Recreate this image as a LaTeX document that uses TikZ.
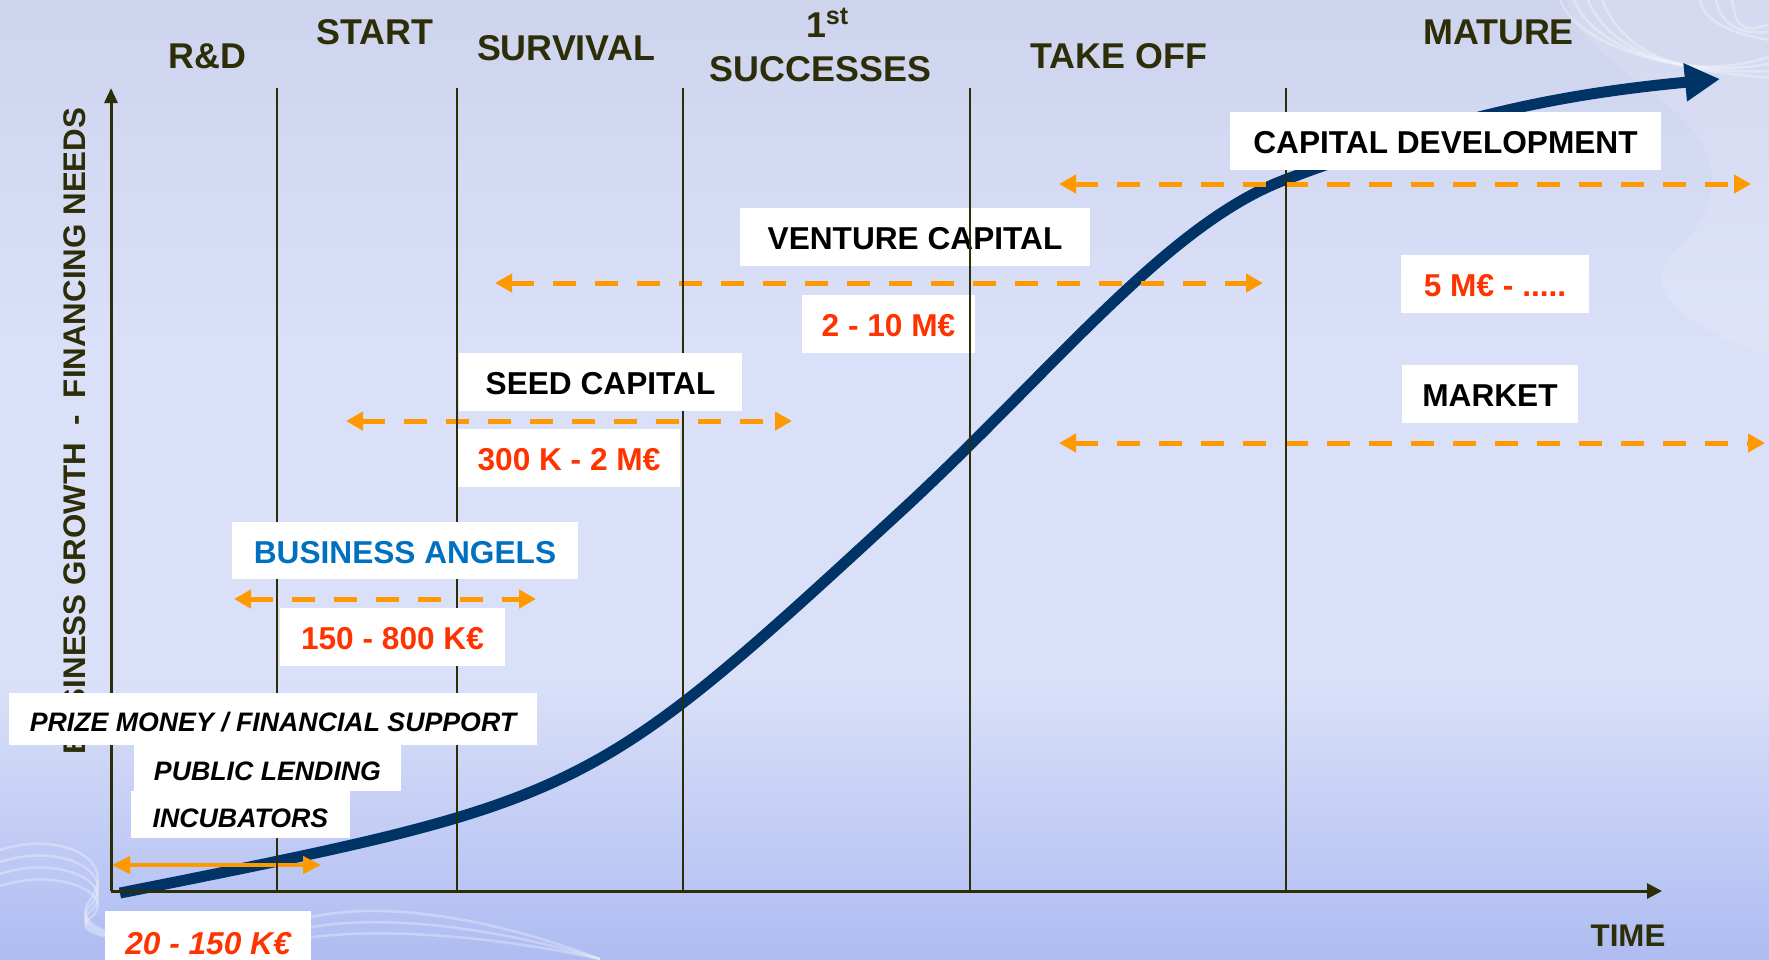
\documentclass[tikz,border=0pt]{standalone}
\usepackage{fontspec}
\setmainfont{Liberation Sans}
\usetikzlibrary{arrows.meta}

\definecolor{growth}  {RGB}{0,51,102}
\definecolor{span}    {RGB}{255,153,0}
\definecolor{amount}  {RGB}{255,51,0}
\definecolor{angels}  {RGB}{0,112,192}
\definecolor{stagecol}{RGB}{45,45,8}
\definecolor{bgtop}   {RGB}{207,212,238}
\definecolor{bgmid}   {RGB}{218,224,248}
\definecolor{bgbot}   {RGB}{174,188,242}

\tikzset{
  box/.style={fill=white, inner sep=0pt, minimum height=5.8mm, text height=0.716em, text depth=0pt,
              font=\fontsize{9}{10}\selectfont\bfseries},
  money/.style={box, text=amount},
  support/.style={box, font=\fontsize{7.6}{9}\selectfont\bfseries\itshape},
  stagename/.style={text=stagecol, inner sep=0pt, text height=0.716em, text depth=0pt,
              font=\fontsize{10.2}{12}\selectfont\bfseries},
  spanline/.style={span, line width=0.5mm, dash pattern=on 2.35mm off 1.85mm,
              {Triangle[length=1.7mm,width=1.8mm]}-{Triangle[length=1.7mm,width=1.8mm]}},
  swirl/.style={white, opacity=0.3, line width=0.25mm},
}

\begin{document}
\begin{tikzpicture}[x=0.1mm,y=-0.1mm]

    % background
    \useasboundingbox (0,0) rectangle (1769,959);
    \shade[top color=bgtop, bottom color=bgmid] (0,0) rectangle (1769,350);
    \fill[bgmid] (0,349) rectangle (1769,681);
    \shade[top color=bgmid, bottom color=bgbot] (0,680) rectangle (1769,959);
    \fill[white, opacity=0.12] (1567,0) .. controls (1580,60) and (1660,80) .. (1700,140)
        .. controls (1730,190) and (1700,230) .. (1670,255) .. controls (1650,280) and (1660,320) .. (1769,355)
        -- (1769,0) -- cycle;
    \foreach \d in {0,14,28,42}
      \draw[swirl] (1560+\d,0) .. controls (1580+\d,50) and (1680,70+\d/3) .. (1769,78-\d/2);
    \foreach \d in {0,16,32}
      \draw[swirl] (1700+\d,0) .. controls (1705+\d,25) and (1740,35) .. (1769,40-\d/2);
    \foreach \d in {0,12,24,36}
      \draw[swirl] (0,850+\d) .. controls (60,830+\d) and (120,860+\d) .. (90,900+\d/2)
          .. controls (60,940) and (180,950) .. (260,930+\d/3);
    \foreach \d in {0,15,30}
      \draw[swirl] (250,959) .. controls (270,900+\d) and (420,890+\d) .. (600,959);

    % growth curve
    \draw[growth, line width=1.1mm, -{Triangle[length=3.5mm,width=3.6mm]}]
      (120,893) .. controls (587,800) and (588,799) .. (900,512)
                .. controls (1050,374) and (1167,223) .. (1287,179)
                .. controls (1440,122) and (1540,96) .. (1720,79);

    % financing ranges
    \draw[spanline] (1059,184) -- (1751,184);
    \draw[spanline] (495,283) -- (1263,283);
    \draw[spanline] (346,421) -- (792,421);
    \draw[spanline] (234,599) -- (536,599);
    \draw[spanline] (1059,443) -- (1765,443);
    \draw[span, line width=0.45mm, {Triangle[length=1.8mm,width=1.7mm]}-{Triangle[length=1.8mm,width=1.7mm]}]
      (112,865) -- (321,865);

    \node[box, minimum width=35mm] (vc) at (915,237) {VENTURE CAPITAL};
    \node[money, minimum width=17.3mm] (vcam) at (888.5,323.5) {2 - 10 M€};

    % stages and axes
    \foreach \x in {277,457,683,970,1286}
      \draw[stagecol, line width=0.25mm] (\x,88) -- (\x,891);
    \draw[stagecol, line width=0.3mm, -{Triangle[length=1.5mm,width=1.3mm]}] (111,891) -- (111,88);
    \draw[stagecol, line width=0.3mm, -{Triangle[length=1.5mm,width=1.5mm]}] (111,891) -- (1662,891);

    \node[stagename, font=\fontsize{8.9}{10}\selectfont\bfseries, rotate=90] (ylab) at (73,431)
      {BUSINESS GROWTH~~-~~FINANCING NEEDS};

    \node[box, minimum width=43.1mm] (cd) at (1445.5,141) {CAPITAL DEVELOPMENT};
    \node[money, minimum width=18.8mm] (cdam) at (1495,284) {5 M€ - .....};
    \node[box, minimum width=17.6mm] (mkt) at (1490,394) {MARKET};
    \node[box, minimum width=28.3mm] (seed) at (600.5,382) {SEED CAPITAL};
    \node[money, minimum width=22.2mm] (seedam) at (569,458) {300 K - 2 M€};
    \node[box, text=angels, minimum width=34.6mm, minimum height=5.7mm] (ba) at (405,550.5) {BUSINESS ANGELS};
    \node[money, minimum width=22.5mm] (baam) at (392.5,637) {150 - 800 K€};
    \node[support, minimum width=52.8mm, minimum height=5.2mm] (prize) at (273,719) {PRIZE MONEY / FINANCIAL SUPPORT};
    \node[support, minimum width=26.7mm, minimum height=4.6mm] (lend) at (267.5,768) {PUBLIC LENDING};
    \node[support, minimum width=21.9mm, minimum height=4.7mm] (incub) at (240.5,814.5) {INCUBATORS};
    \node[money, font=\fontsize{9}{10}\selectfont\bfseries\itshape, minimum width=20.6mm, minimum height=6.2mm]
      (startam) at (208,942) {20 - 150 K€};

    \node[stagename] (rd) at (207.5,56) {R\&D};
    \node[stagename] (start) at (374.5,32) {START};
    \node[stagename] (surv) at (566,48) {SURVIVAL};
    \node[stagename] (first) at (828,25) {1\textsuperscript{st}};
    \node[stagename] (succ) at (820.5,69) {SUCCESSES};
    \node[stagename] (takeoff) at (1119,55.5) {TAKE OFF};
    \node[stagename] (mature) at (1498.5,32) {MATURE};
    \node[stagename, font=\fontsize{8.9}{10}\selectfont\bfseries] (time) at (1628,934) {TIME};

  \end{tikzpicture}
\end{document}
